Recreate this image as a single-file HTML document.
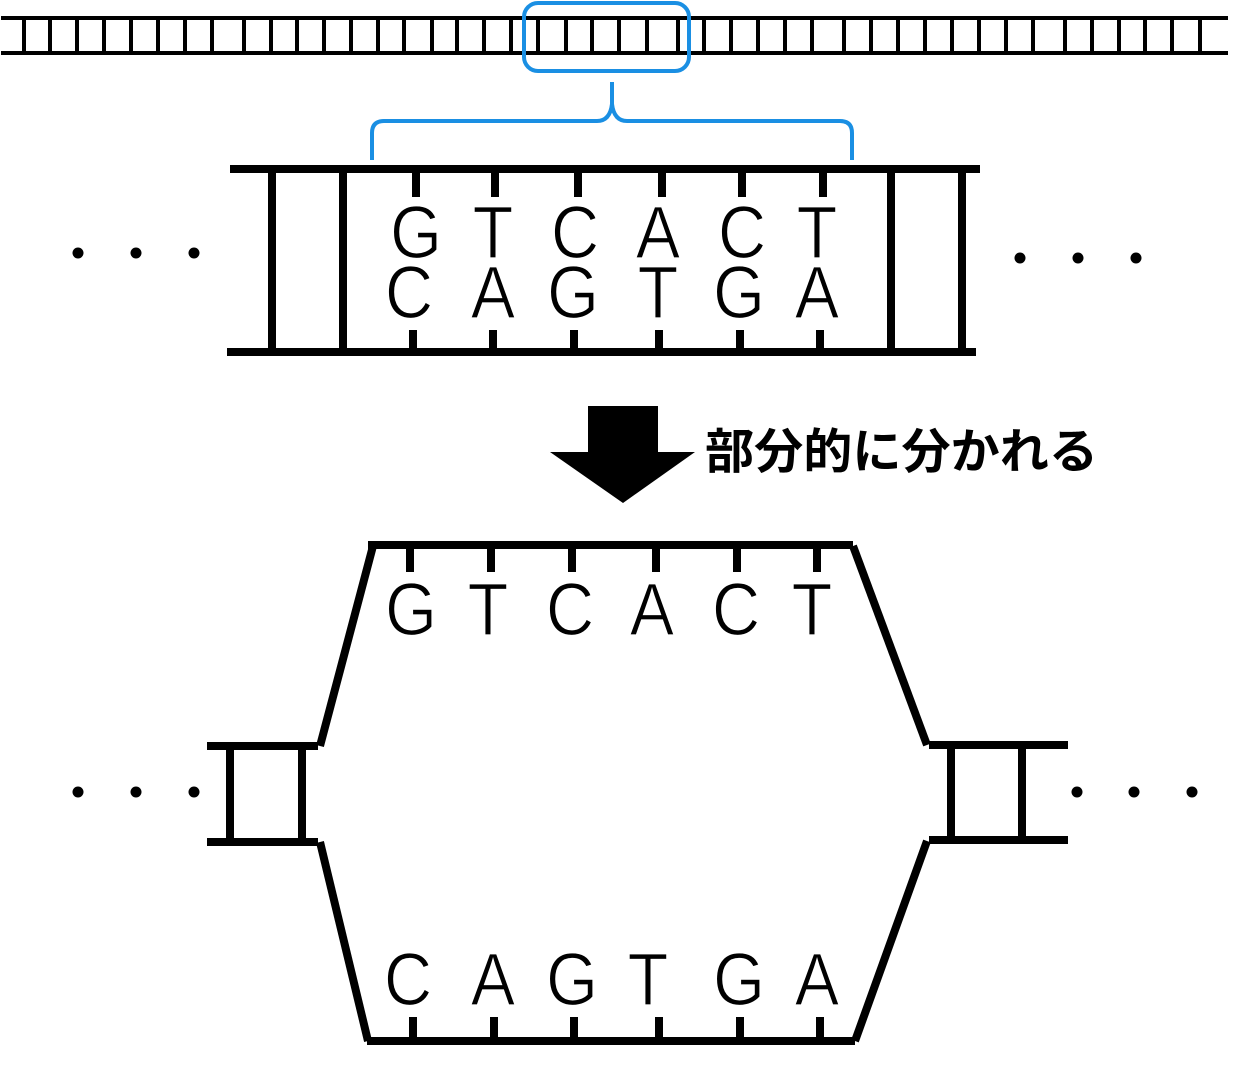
<!DOCTYPE html>
<html>
<head>
<meta charset="utf-8">
<style>
  html, body { margin:0; padding:0; background:#fff; }
  body { width:1257px; height:1068px; overflow:hidden; }
  svg { display:block; }
  .b { font-family:"Liberation Sans", "DejaVu Sans", sans-serif; font-size:74px; fill:#000; text-anchor:middle; stroke:#fff; stroke-width:1.2px; }
  .jp { font-family:"Liberation Sans", "Noto Sans CJK JP", sans-serif; font-size:48px; font-weight:bold; fill:#000; }
</style>
</head>
<body>
<svg width="1257" height="1068" viewBox="0 0 1257 1068" xmlns="http://www.w3.org/2000/svg">
  <!-- Top long ladder -->
  <g stroke="#000" fill="none">
    <line x1="1" y1="18" x2="1228" y2="18" stroke-width="4"/>
    <line x1="1" y1="53" x2="1228" y2="53" stroke-width="4"/>
    <path stroke-width="4" d="M24 18V53M50 18V53M77 18V53M104 18V53M131 18V53M158 18V53M185 18V53M212 18V53M244 18V53M271 18V53M297 18V53M324 18V53M351 18V53M378 18V53M404 18V53M432 18V53M457 18V53M484 18V53M511 18V53M538 18V53M566 18V53M592 18V53M619 18V53M647 18V53M678 18V53M704 18V53M731 18V53M758 18V53M785 18V53M812 18V53M844 18V53M871 18V53M898 18V53M925 18V53M952 18V53M979 18V53M1006 18V53M1033 18V53M1065 18V53M1092 18V53M1119 18V53M1145 18V53M1172 18V53M1200 18V53"/>
  </g>

  <!-- Blue highlight box and brace -->
  <rect x="524" y="3" width="165" height="68" rx="14" ry="14" fill="none" stroke="#1a8fe3" stroke-width="4"/>
  <path d="M372,160 V133 Q372,121 384,121 H597 Q610,121 612,104 V82 M612,104 Q614,121 627,121 H840 Q852,121 852,133 V160" fill="none" stroke="#1a8fe3" stroke-width="4"/>

  <!-- Middle ladder -->
  <g stroke="#000" fill="none" stroke-width="8">
    <line x1="230" y1="169" x2="980" y2="169"/>
    <line x1="227" y1="352" x2="976" y2="352"/>
    <line x1="272" y1="169" x2="272" y2="352"/>
    <line x1="343" y1="169" x2="343" y2="352"/>
    <line x1="891" y1="169" x2="891" y2="352"/>
    <line x1="962" y1="169" x2="962" y2="352"/>
    <path d="M416 172V197M495 172V197M578 172V197M662 172V197M742 172V197M823 172V197"/>
    <path d="M413 330V350M493 330V350M574 330V350M659 330V350M740 330V350M820 330V350"/>
  </g>
  <g class="b">
    <text transform="translate(416,258) scale(0.9,1)">G</text>
    <text transform="translate(493,258) scale(0.9,1)">T</text>
    <text transform="translate(575,258) scale(0.9,1)">C</text>
    <text transform="translate(658,258) scale(0.9,1)">A</text>
    <text transform="translate(742,258) scale(0.9,1)">C</text>
    <text transform="translate(817,258) scale(0.9,1)">T</text>
    <text transform="translate(409,318) scale(0.9,1)">C</text>
    <text transform="translate(493,318) scale(0.9,1)">A</text>
    <text transform="translate(573,318) scale(0.9,1)">G</text>
    <text transform="translate(658,318) scale(0.9,1)">T</text>
    <text transform="translate(739,318) scale(0.9,1)">G</text>
    <text transform="translate(817,318) scale(0.9,1)">A</text>
  </g>

  <!-- Dots -->
  <g fill="#000">
    <circle cx="78" cy="253" r="5.5"/>
    <circle cx="136" cy="253" r="5.5"/>
    <circle cx="194" cy="253" r="5.5"/>
    <circle cx="1020" cy="258" r="5.5"/>
    <circle cx="1078" cy="258" r="5.5"/>
    <circle cx="1136" cy="258" r="5.5"/>
    <circle cx="78" cy="792" r="5.5"/>
    <circle cx="136" cy="792" r="5.5"/>
    <circle cx="194" cy="792" r="5.5"/>
    <circle cx="1077" cy="792" r="5.5"/>
    <circle cx="1134" cy="792" r="5.5"/>
    <circle cx="1192" cy="792" r="5.5"/>
  </g>

  <!-- Arrow -->
  <polygon points="588,406 658,406 658,452 695,452 623,503 550,452 588,452" fill="#000"/>
  <text class="jp" x="705" y="468" textLength="393" lengthAdjust="spacingAndGlyphs">部分的に分かれる</text>

  <!-- Bottom separated structure -->
  <g stroke="#000" fill="none" stroke-width="8">
    <line x1="368" y1="545" x2="853" y2="545"/>
    <line x1="373" y1="546" x2="320" y2="746"/>
    <line x1="853" y1="546" x2="927" y2="745"/>
    <!-- left small ladder -->
    <line x1="207" y1="746" x2="318" y2="746"/>
    <line x1="207" y1="842" x2="318" y2="842"/>
    <line x1="230" y1="746" x2="230" y2="842"/>
    <line x1="302" y1="746" x2="302" y2="842"/>
    <!-- right small ladder -->
    <line x1="929" y1="745" x2="1068" y2="745"/>
    <line x1="929" y1="840" x2="1068" y2="840"/>
    <line x1="951" y1="745" x2="951" y2="840"/>
    <line x1="1022" y1="745" x2="1022" y2="840"/>
    <!-- lower diagonals -->
    <line x1="320" y1="842" x2="368" y2="1041"/>
    <line x1="927" y1="841" x2="855" y2="1041"/>
    <line x1="367" y1="1041" x2="855" y2="1041"/>
    <!-- ticks -->
    <path d="M410 548V572M491 548V572M572 548V572M656 548V572M737 548V572M817 548V572"/>
    <path d="M413 1017V1039M494 1017V1039M574 1017V1039M659 1017V1039M740 1017V1039M820 1017V1039"/>
  </g>
  <g class="b">
    <text transform="translate(411,635) scale(0.9,1)">G</text>
    <text transform="translate(488,635) scale(0.9,1)">T</text>
    <text transform="translate(570,635) scale(0.9,1)">C</text>
    <text transform="translate(652,635) scale(0.9,1)">A</text>
    <text transform="translate(736,635) scale(0.9,1)">C</text>
    <text transform="translate(812,635) scale(0.9,1)">T</text>
    <text transform="translate(408,1005) scale(0.9,1)">C</text>
    <text transform="translate(493,1005) scale(0.9,1)">A</text>
    <text transform="translate(572,1005) scale(0.9,1)">G</text>
    <text transform="translate(648,1005) scale(0.9,1)">T</text>
    <text transform="translate(739,1005) scale(0.9,1)">G</text>
    <text transform="translate(817,1005) scale(0.9,1)">A</text>
  </g>
</svg>
</body>
</html>
